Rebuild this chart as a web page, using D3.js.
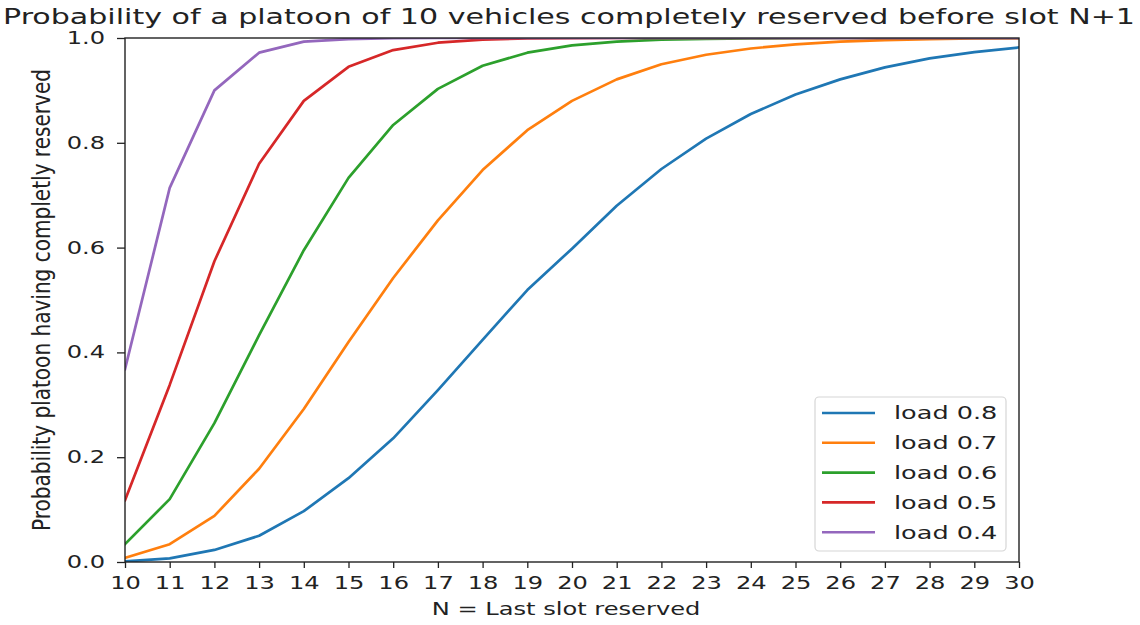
<!DOCTYPE html>
<html>
<head>
<meta charset="utf-8">
<script src="https://cdn.jsdelivr.net/npm/d3@7"></script>
<style>
  body { margin: 0; background: #fff; }
  svg { display: block; }
  text { font-family: "DejaVu Sans", sans-serif; fill: #222; }
</style>
</head>
<body>
<svg id="chart" width="1140" height="625"></svg>
<script>
// Last reserved slot N
const slots = [10, 11, 12, 13, 14, 15, 16, 17, 18, 19, 20, 21, 22, 23, 24, 25, 26, 27, 28, 29, 30];

// Probability that the platoon is completely reserved, per load
const load08 = [0.001, 0.007, 0.023, 0.050, 0.097, 0.160, 0.236, 0.328, 0.424, 0.519, 0.598, 0.680, 0.750, 0.808, 0.855, 0.892, 0.921, 0.944, 0.961, 0.973, 0.982];
const load07 = [0.008, 0.034, 0.088, 0.178, 0.292, 0.420, 0.542, 0.652, 0.748, 0.824, 0.880, 0.921, 0.950, 0.968, 0.980, 0.988, 0.993, 0.996, 0.998, 0.999, 0.9995];
const load06 = [0.034, 0.120, 0.265, 0.433, 0.595, 0.733, 0.834, 0.903, 0.947, 0.972, 0.986, 0.993, 0.997, 0.9985, 0.9993, 0.9997, 1.0, 1.0, 1.0, 1.0, 1.0];
const load05 = [0.118, 0.338, 0.574, 0.760, 0.880, 0.945, 0.977, 0.991, 0.997, 0.999, 0.9996, 1.0, 1.0, 1.0, 1.0, 1.0, 1.0, 1.0, 1.0, 1.0, 1.0];
const load04 = [0.368, 0.714, 0.900, 0.972, 0.993, 0.998, 0.9996, 1.0, 1.0, 1.0, 1.0, 1.0, 1.0, 1.0, 1.0, 1.0, 1.0, 1.0, 1.0, 1.0, 1.0];

const seriesLabels = ["load 0.8", "load 0.7", "load 0.6", "load 0.5", "load 0.4"];
const seriesColors = ["#1f77b4", "#ff7f0e", "#2ca02c", "#d62728", "#9467bd"];
const seriesValues = [load08, load07, load06, load05, load04];

const yTicks = [0, 0.2, 0.4, 0.6, 0.8, 1.0];

const titleText = "Probability of a platoon of 10 vehicles completely reserved before slot N+1";
const xLabelText = "N = Last slot reserved";
const yLabelText = "Probability platoon having completly reserved";

// ---- layout ----
const plot = { left: 125, right: 1019, top: 38, bottom: 562 };
const SX = 1.42;            // horizontal stretch applied to all text
const tickFont = 17;
const legendFont = 18;
const titleFont = 21.2;
const ink = "#222";

const svg = d3.select("#chart");

const x = d3.scaleLinear().domain([10, 30]).range([plot.left, plot.right]);
const y = d3.scaleLinear().domain([0, 1]).range([plot.bottom, plot.top]);

svg.append("defs").append("clipPath").attr("id", "plot-clip")
  .append("rect")
  .attr("x", plot.left).attr("y", plot.top)
  .attr("width", plot.right - plot.left).attr("height", plot.bottom - plot.top);

// ---- series lines ----
const line = d3.line()
  .x((d, i) => x(slots[i]))
  .y(d => y(d));

svg.append("g").attr("clip-path", "url(#plot-clip)")
  .selectAll("path")
  .data(seriesValues)
  .join("path")
  .attr("d", d => line(d))
  .attr("fill", "none")
  .attr("stroke", (d, i) => seriesColors[i])
  .attr("stroke-width", 2.7)
  .attr("stroke-linejoin", "round")
  .attr("stroke-linecap", "square");

// ---- axes ----
const xAxis = svg.append("g")
  .attr("transform", `translate(0,${plot.bottom})`)
  .call(d3.axisBottom(x).tickValues(slots).tickFormat(d3.format("d")).tickSize(6).tickPadding(9));
xAxis.select(".domain").remove();
xAxis.selectAll(".tick line").attr("stroke", ink).attr("stroke-width", 1.3);
xAxis.selectAll(".tick text")
  .attr("font-size", tickFont)
  .attr("fill", ink)
  .attr("transform", `scale(${SX},1)`);

const yAxis = svg.append("g")
  .attr("transform", `translate(${plot.left},0)`)
  .call(d3.axisLeft(y).tickValues(yTicks).tickFormat(d3.format(".1f")).tickSize(8).tickPadding(12));
yAxis.select(".domain").remove();
yAxis.selectAll(".tick line").attr("stroke", ink).attr("stroke-width", 1.3);
yAxis.selectAll(".tick text")
  .attr("font-size", tickFont)
  .attr("fill", ink)
  .attr("x", -20 / SX)
  .attr("transform", `scale(${SX},1)`);

// ---- frame ----
svg.append("rect")
  .attr("x", plot.left).attr("y", plot.top)
  .attr("width", plot.right - plot.left).attr("height", plot.bottom - plot.top)
  .attr("fill", "none").attr("stroke", ink).attr("stroke-width", 1.4);

// ---- title and axis labels ----
const cx = (plot.left + plot.right) / 2;
const cy = (plot.top + plot.bottom) / 2;

svg.append("text")
  .attr("text-anchor", "middle")
  .attr("font-size", titleFont)
  .attr("transform", `translate(${cx - 3},24) scale(${SX},1)`)
  .text(titleText);

svg.append("text")
  .attr("text-anchor", "middle")
  .attr("font-size", tickFont)
  .attr("transform", `translate(${cx - 6},615) scale(${SX},1)`)
  .text(xLabelText);

svg.append("text")
  .attr("text-anchor", "middle")
  .attr("font-size", tickFont)
  .attr("transform", `translate(50,${cy}) scale(${SX},1.18) rotate(-90)`)
  .text(yLabelText);

// ---- legend ----
const legend = svg.append("g");
const lg = { x: 815, y: 397, w: 191, h: 154, row0: 413, rowStep: 29.8 };
legend.append("rect")
  .attr("x", lg.x).attr("y", lg.y)
  .attr("width", lg.w).attr("height", lg.h)
  .attr("rx", 4).attr("ry", 4)
  .attr("fill", "#fff").attr("fill-opacity", 0.8)
  .attr("stroke", "#d6d6d6").attr("stroke-width", 1.2);

const rows = legend.selectAll("g.row")
  .data(seriesLabels)
  .join("g")
  .attr("class", "row")
  .attr("transform", (d, i) => `translate(0,${lg.row0 + i * lg.rowStep})`);

rows.append("line")
  .attr("x1", lg.x + 7).attr("x2", lg.x + 60)
  .attr("y1", 0).attr("y2", 0)
  .attr("stroke", (d, i) => seriesColors[i])
  .attr("stroke-width", 2.6);

rows.append("text")
  .attr("font-size", legendFont)
  .attr("dy", "0.36em")
  .attr("transform", `translate(${lg.x + 79},0) scale(${SX},1)`)
  .text(d => d);
</script>
</body>
</html>
